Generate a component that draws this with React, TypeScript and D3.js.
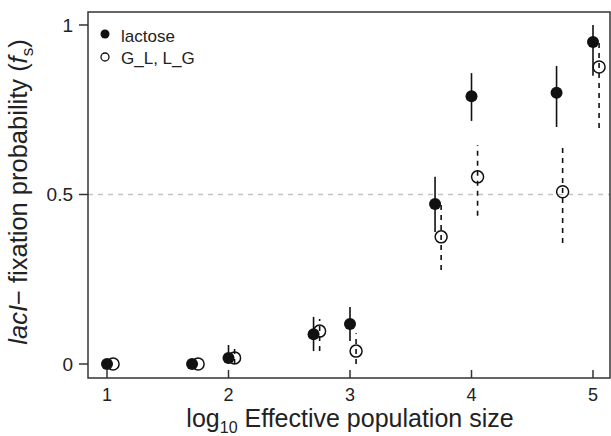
// fixation probability vs population size, d3 scales drawn as JSX
import React from 'react';
import * as d3 from 'd3';

// log10 population sizes and the two series (filled = lactose, open = G_L, L_G)
const xLactose = [1, 1.7, 2, 2.7, 3, 3.7, 4, 4.7, 5];
const yLactose = [0, 0, 0.018, 0.088, 0.118, 0.472, 0.79, 0.8, 0.95];
const loLactose = [0, 0, 0, 0.038, 0.068, 0.389, 0.717, 0.699, 0.85];
const hiLactose = [0, 0, 0.056, 0.139, 0.168, 0.552, 0.858, 0.879, 1.0];

const xSwitch = [1.05, 1.75, 2.05, 2.75, 3.05, 3.75, 4.05, 4.75, 5.05];
const ySwitch = [0, 0, 0.018, 0.097, 0.038, 0.375, 0.552, 0.508, 0.876];
const loSwitch = [0, 0, 0, 0.038, 0, 0.277, 0.437, 0.357, 0.696];
const hiSwitch = [0, 0, 0.053, 0.133, 0.091, 0.47, 0.646, 0.64, 0.947];

const xTicks = [1, 2, 3, 4, 5];
const yTicks = [0, 0.5, 1];
const yTickLabels = ['0', '0.5', '1'];
const legendLabels = ['lactose', 'G_L, L_G'];

const W = 611;
const H = 436;
const font = 'Liberation Sans, Arial, Helvetica, sans-serif';
const ink = '#222';

export default function App() {
  const left = 88, right = 610, top = 12, bottom = 378;

  // same scale as the figure: tick 1 at 107px, 5 at 593px
  const x = d3.scaleLinear().domain([0.8436, 5.1399]).range([left, right]);
  const y = d3.scaleLinear().domain([-0.0413, 1.0383]).range([bottom, top]);

  return (
    <svg width={W} height={H} style={{ position: 'absolute', left: 0, top: 0, background: '#fff' }}>
      {/* reference line at 0.5 */}
      <line x1={left} x2={right} y1={y(0.5)} y2={y(0.5)}
        stroke="#c4c4c4" strokeWidth={1.5} strokeDasharray="5,5" />

      {/* box */}
      <path d={`M${left},${top}H${right}V${bottom}H${left}Z`} fill="none" stroke="#333" strokeWidth={1.5} />

      {/* y axis ticks */}
      {yTicks.map((t, i) => (
        <g key={'yt' + i}>
          <line x1={left - 9} x2={left} y1={y(t)} y2={y(t)} stroke="#333" strokeWidth={1.5} />
          <text x={left - 15} y={y(t)} dy="0.36em" textAnchor="end"
            fontFamily={font} fontSize={19} fill={ink}>{yTickLabels[i]}</text>
        </g>
      ))}

      {/* x axis ticks (inward) */}
      {xTicks.map((t) => (
        <g key={'xt' + t}>
          <line x1={x(t)} x2={x(t)} y1={bottom - 8} y2={bottom} stroke="#333" strokeWidth={1.5} />
          <text x={x(t)} y={401} textAnchor="middle"
            fontFamily={font} fontSize={18} fill={ink}>{t}</text>
        </g>
      ))}

      {/* error bars, open series dashed */}
      {xSwitch.map((v, i) => (
        <line key={'es' + i} x1={x(v)} x2={x(v)} y1={y(loSwitch[i])} y2={y(hiSwitch[i])}
          stroke="#111" strokeWidth={1.6} strokeDasharray="5,5" />
      ))}
      {xLactose.map((v, i) => (
        <line key={'el' + i} x1={x(v)} x2={x(v)} y1={y(loLactose[i])} y2={y(hiLactose[i])}
          stroke="#111" strokeWidth={1.6} />
      ))}

      {/* points */}
      {xSwitch.map((v, i) => (
        <circle key={'ps' + i} cx={x(v)} cy={y(ySwitch[i])} r={6}
          fill="none" stroke="#111" strokeWidth={1.5} />
      ))}
      {xLactose.map((v, i) => (
        <circle key={'pl' + i} cx={x(v)} cy={y(yLactose[i])} r={6} fill="#111" />
      ))}

      {/* legend */}
      <circle cx={105} cy={34} r={4.5} fill="#111" />
      <text x={121} y={41.5} fontFamily={font} fontSize={17} fill={ink}>{legendLabels[0]}</text>
      <circle cx={105} cy={57} r={4} fill="none" stroke="#111" strokeWidth={1.3} />
      <text x={121} y={63.5} fontFamily={font} fontSize={17} fill={ink}>{legendLabels[1]}</text>

      {/* x title */}
      <text x={350} y={427} textAnchor="middle" fontFamily={font} fontSize={25} fill={ink}>
        log<tspan fontSize={16} dy={6}>10</tspan><tspan dy={-6}> Effective population size</tspan>
      </text>

      {/* y title */}
      <text transform={`translate(27,192) rotate(-90)`} textAnchor="middle"
        fontFamily={font} fontSize={25.5} fill={ink}>
        <tspan fontStyle="italic">lacI</tspan>− fixation probability (<tspan fontStyle="italic">f</tspan>
        <tspan fontSize={17} dy={6}>s</tspan><tspan dy={-6}>)</tspan>
      </text>
    </svg>
  );
}
